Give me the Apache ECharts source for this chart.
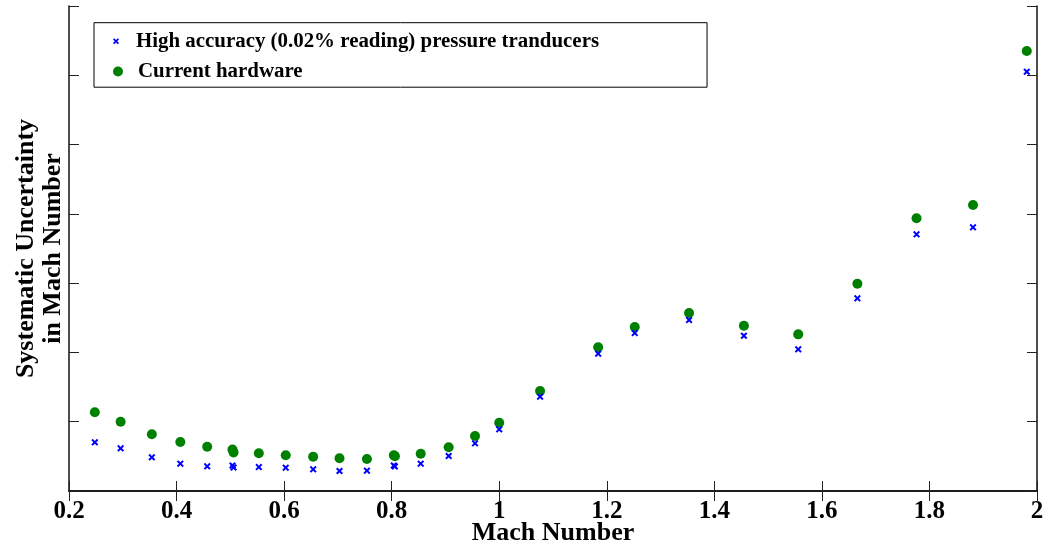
<!DOCTYPE html>
<html>
<head>
<meta charset="utf-8">
<script src="https://cdn.jsdelivr.net/npm/echarts@6/dist/echarts.min.js"></script>
<style>
  html, body { margin: 0; padding: 0; background: #fff; }
  #chart { width: 1048px; height: 550px; }
</style>
</head>
<body>
<div id="chart"></div>
<script>
// Mach numbers of the test points (shared by both uncertainty estimates)
const machNumber = [0.248, 0.296, 0.354, 0.407, 0.457, 0.504, 0.506, 0.553, 0.603, 0.654,
  0.703, 0.754, 0.804, 0.806, 0.854, 0.906, 0.955, 1.000, 1.076, 1.184,
  1.252, 1.353, 1.455, 1.556, 1.666, 1.776, 1.881, 1.981];

// Systematic uncertainty with 0.02%-of-reading pressure transducers
const highAccuracy = [0.703, 0.616, 0.486, 0.394, 0.356, 0.368, 0.339, 0.346, 0.336, 0.313,
  0.289, 0.293, 0.368, 0.354, 0.394, 0.505, 0.688, 0.890, 1.361, 1.982,
  2.280, 2.468, 2.241, 2.045, 2.781, 3.705, 3.806, 6.051];

// Systematic uncertainty with the current hardware
const currentHardware = [1.136, 1.000, 0.818, 0.707, 0.639, 0.600, 0.556, 0.544, 0.515, 0.495,
  0.472, 0.462, 0.515, 0.503, 0.538, 0.631, 0.794, 0.986, 1.443, 2.074,
  2.367, 2.569, 2.386, 2.261, 2.992, 3.936, 4.128, 6.350];

const seriesNames = ['High accuracy (0.02% reading) pressure tranducers', 'Current hardware'];

const FONT = "'Liberation Serif', 'Times New Roman', serif";
const CROSS = 'path://M0,2 L2,0 L5,3 L8,0 L10,2 L7,5 L10,8 L8,10 L5,7 L2,10 L0,8 L3,5 Z';

const pairs = (xs, ys) => xs.map((x, i) => [x, ys[i]]);

const frameLine = { show: true, lineStyle: { color: '#111', width: 1.5 } };
const innerTicks = { show: true, inside: true, length: 10, lineStyle: { color: '#222', width: 1 } };
const legendText = { fontFamily: FONT, fontWeight: 'bold', fontSize: 20.9, color: '#000' };

const chart = echarts.init(document.getElementById('chart'), null, { renderer: 'canvas' });

chart.setOption({
  backgroundColor: '#fff',
  animation: false,
  grid: {
    left: 69, right: 11, top: 6, bottom: 59,
    containLabel: false, outerBoundsMode: 'none'
  },
  legend: [
    {
      data: [{ name: seriesNames[0], icon: CROSS }],
      orient: 'vertical',
      left: 94, top: 22.7,
      padding: [8, 108, 35.5, 19],
      itemWidth: 30, itemHeight: 6,
      borderColor: '#000', borderWidth: 1,
      backgroundColor: '#fff',
      selectedMode: false,
      textStyle: legendText
    },
    {
      data: [{ name: seriesNames[1], icon: 'circle' }],
      orient: 'vertical',
      left: 94, top: 61,
      padding: [0, 0, 0, 19],
      itemWidth: 30, itemHeight: 10,
      selectedMode: false,
      textStyle: legendText
    }
  ],
  xAxis: [
    {
      type: 'value', min: 0.2, max: 2, interval: 0.2,
      position: 'bottom',
      name: 'Mach Number', nameLocation: 'middle', nameGap: 29,
      nameMoveOverlap: false,
      nameTextStyle: { fontFamily: FONT, fontWeight: 'bold', fontSize: 26, color: '#000' },
      axisLine: frameLine, axisTick: innerTicks,
      axisLabel: {
        margin: 8,
        fontFamily: FONT, fontWeight: 'bold', fontSize: 25, color: '#000',
        formatter: v => String(Math.round(v * 10) / 10)
      },
      splitLine: { show: false }
    },
    {
      type: 'value', min: 0.2, max: 2, interval: 0.2,
      position: 'top',
      axisLine: frameLine, axisTick: innerTicks,
      axisLabel: { show: false }, splitLine: { show: false }
    }
  ],
  yAxis: [
    {
      type: 'value', min: 0, max: 7, interval: 1,
      position: 'left',
      name: 'Systematic Uncertainty\nin Mach Number', nameLocation: 'middle', nameGap: 2,
      nameMoveOverlap: false,
      nameTextStyle: { fontFamily: FONT, fontWeight: 'bold', fontSize: 26, lineHeight: 27, color: '#000', align: 'center' },
      axisLine: frameLine, axisTick: innerTicks,
      axisLabel: { show: false }, splitLine: { show: false }
    },
    {
      type: 'value', min: 0, max: 7, interval: 1,
      position: 'right',
      axisLine: frameLine, axisTick: innerTicks,
      axisLabel: { show: false }, splitLine: { show: false }
    }
  ],
  series: [
    {
      name: seriesNames[1],
      type: 'scatter',
      data: pairs(machNumber, currentHardware),
      symbol: 'circle', symbolSize: 10,
      itemStyle: { color: '#008000', opacity: 1 },
      z: 2
    },
    {
      name: seriesNames[0],
      type: 'scatter',
      data: pairs(machNumber, highAccuracy),
      symbol: CROSS, symbolSize: 7,
      itemStyle: { color: '#0000ff', opacity: 1 },
      z: 3
    }
  ]
});
</script>
</body>
</html>
